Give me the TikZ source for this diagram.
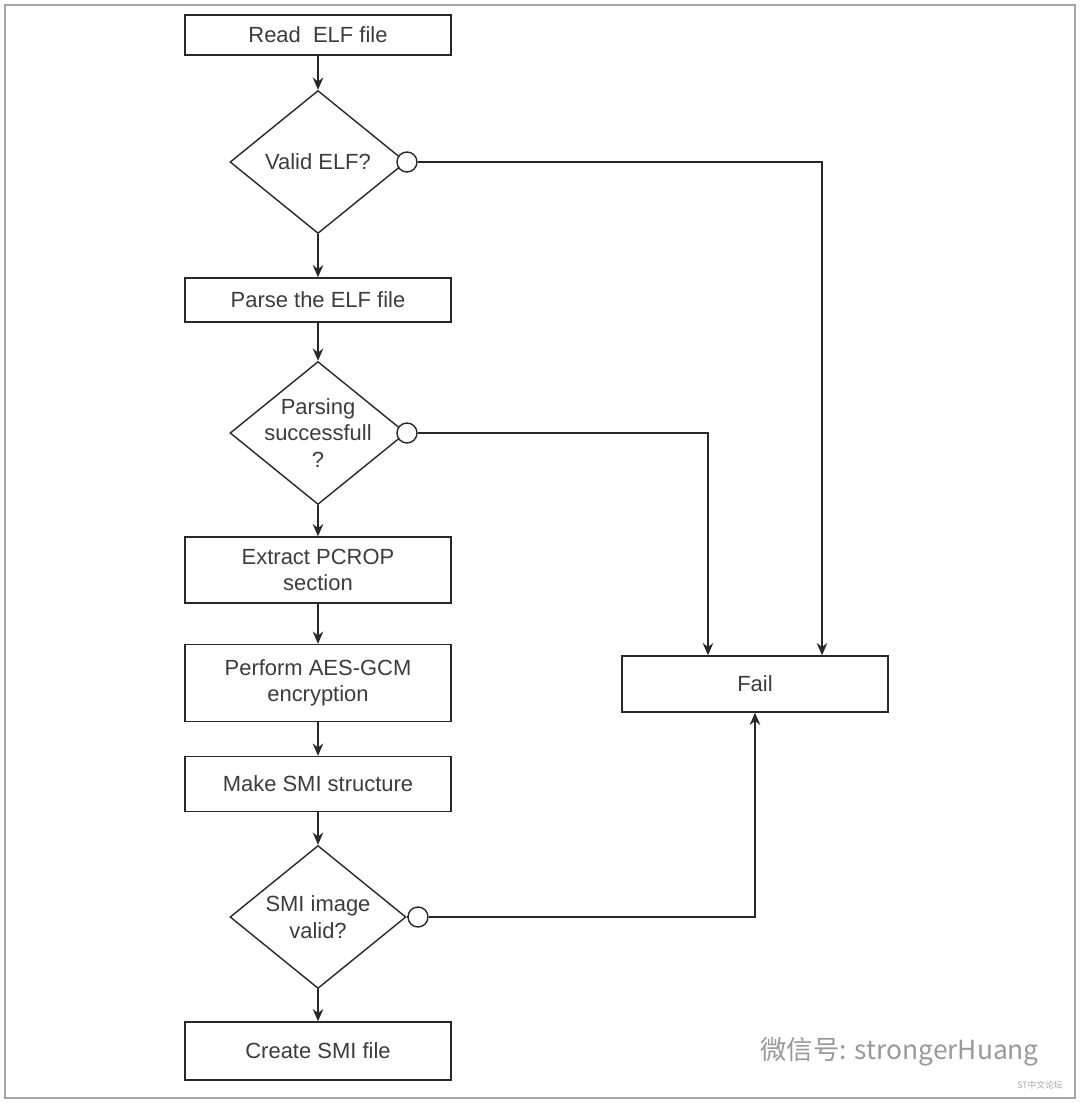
\documentclass[tikz,border=0pt]{standalone}
\usepackage{fontspec}
\setmainfont{Liberation Sans}
\newfontfamily\cjk{Noto Sans CJK SC}
\usetikzlibrary{shapes.geometric,arrows.meta,positioning}
\definecolor{linegray}{RGB}{40,40,40}
\definecolor{textgray}{RGB}{60,60,60}

\begin{document}
\begin{tikzpicture}[
    x=0.02cm, y=-0.02cm,
    box/.style={rectangle, draw=linegray, thick, minimum width=5.32cm, align=center, text=textgray, font=\fontsize{12.5}{15}\selectfont},
    dec/.style={diamond, draw=linegray, thick, minimum width=3.52cm, minimum height=2.86cm, inner sep=0pt},
    dectext/.style={align=center, text=textgray, font=\fontsize{12.5}{15}\selectfont},
    nocirc/.style={circle, draw=linegray, thick, fill=white, minimum size=0.4cm, inner sep=0pt},
    arrow/.style={-{Stealth[length=7pt,width=6pt]}, thick, draw=linegray}
]
\useasboundingbox (0,0) rectangle (1080,1103);
\draw[gray!70, thick] (5,5) rectangle (1075,1098);

% Nodes
\node[box, minimum height=0.8cm] (read) at (318,35) {Read~ ELF file};
\node[dec] (valid) at (318,162) {};
\node[dectext] (validt) at (318,162) {Valid ELF?};
\node[box, minimum height=0.88cm] (parse) at (318,300) {Parse the ELF file};
\node[dec] (parsing) at (318,433) {};
\node[dectext] (parsingt) at (318,433) {Parsing\\successfull\\?};
\node[box, minimum height=1.32cm] (extract) at (318,570) {Extract PCROP\\section};
\node[box, minimum height=1.54cm] (aes) at (318,683) {Perform AES-GCM\\encryption};
\node[box, minimum height=1.1cm] (make) at (318,784) {Make SMI structure};
\node[dec] (smi) at (318,917) {};
\node[dectext] (smit) at (318,917) {SMI image\\valid?};
\node[box, minimum height=1.16cm] (create) at (318,1051) {Create SMI file};
\node[box, minimum height=1.12cm] (fail) at (755,684) {Fail};

% Negation circles
\node[nocirc] (c1) at (407,162) {};
\node[nocirc] (c2) at (407,433) {};
\node[nocirc] (c3) at (418,917) {};

% Arrows
\draw[arrow] (read) -- (valid);
\draw[arrow] (valid) -- (parse);
\draw[arrow] (parse) -- (parsing);
\draw[arrow] (parsing) -- (extract);
\draw[arrow] (extract) -- (aes);
\draw[arrow] (aes) -- (make);
\draw[arrow] (make) -- (smi);
\draw[arrow] (smi) -- (create);
\draw[thick, draw=linegray] (smi.east) -- (c3);
\draw[arrow] (c1.east) -| (fail.north -| 822,0);
\draw[arrow] (c2.east) -| (fail.north -| 708,0);
\draw[arrow] (c3.east) -| (fail.south);

% Watermark
\node[text=gray!80, font=\cjk\fontsize{15}{18}\selectfont, anchor=east] (wm) at (1045,1052) {微信号: strongerHuang};
\node[text=gray!70, font=\cjk\fontsize{5}{6}\selectfont] (wm2) at (1040,1085) {ST中文论坛};

\end{tikzpicture}
\end{document}
